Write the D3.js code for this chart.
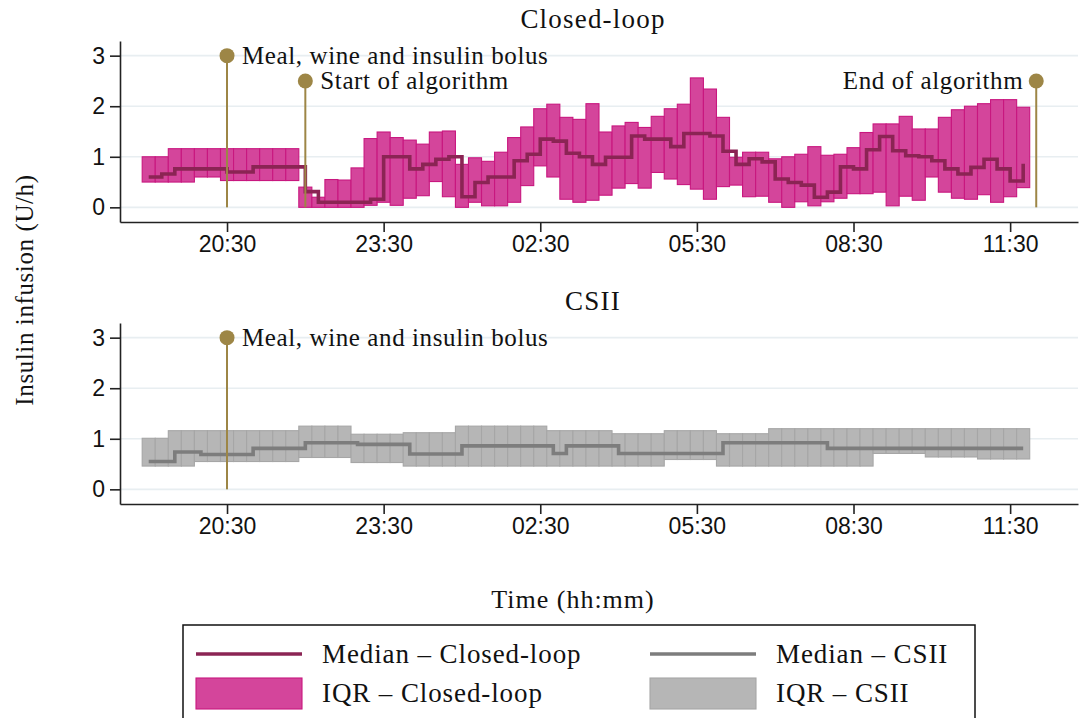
<!DOCTYPE html>
<html>
<head>
<meta charset="utf-8">
<script src="https://cdn.jsdelivr.net/npm/d3@7"></script>
<style>
  body { margin: 0; background: #fff; }
  svg { display: block; }
</style>
</head>
<body>
<svg id="chart" width="1080" height="718"></svg>
<script>
// 15-minute slots (slot centres) from the evening to late morning
const slotTimes = [
  "19:00","19:15","19:30","19:45","20:00","20:15","20:30","20:45",
  "21:00","21:15","21:30","21:45","22:00","22:15","22:30","22:45",
  "23:00","23:15","23:30","23:45","00:00","00:15","00:30","00:45",
  "01:00","01:15","01:30","01:45","02:00","02:15","02:30","02:45",
  "03:00","03:15","03:30","03:45","04:00","04:15","04:30","04:45",
  "05:00","05:15","05:30","05:45","06:00","06:15","06:30","06:45",
  "07:00","07:15","07:30","07:45","08:00","08:15","08:30","08:45",
  "09:00","09:15","09:30","09:45","10:00","10:15","10:30","10:45",
  "11:00","11:15","11:30","11:45"
];

// Closed-loop insulin infusion (U/h): lower quartile, upper quartile, median
const clLow = [
  0.50,0.50,0.50,0.50,0.60,0.60,0.53,0.53,0.53,0.53,0.53,0.53,
  0.00,0.00,0.00,0.00,0.00,0.04,0.10,0.04,0.18,0.23,0.51,0.21,
  0.00,0.10,0.03,0.03,0.10,0.43,0.82,0.60,0.16,0.10,0.14,0.24,
  0.38,0.47,0.38,0.69,0.56,0.45,0.36,0.16,0.41,0.44,0.21,0.22,
  0.10,0.00,0.11,0.03,0.11,0.18,0.27,0.27,0.30,0.03,0.22,0.14,
  0.60,0.30,0.18,0.16,0.25,0.10,0.21,0.39
];
const clHigh = [
  1.00,1.00,1.16,1.16,1.16,1.16,1.16,1.16,1.16,1.16,1.16,1.16,
  0.40,0.20,0.55,0.54,0.78,1.36,1.49,1.38,1.33,1.25,1.49,1.51,
  0.85,0.98,0.91,1.09,1.38,1.59,1.95,2.04,1.78,1.74,2.05,1.49,
  1.61,1.68,1.58,1.80,1.95,2.04,2.56,2.34,1.78,0.99,1.09,1.09,
  0.96,1.00,1.05,1.20,1.03,1.05,1.18,1.48,1.65,1.65,1.80,1.55,
  1.55,1.78,1.93,2.00,2.05,2.13,2.13,1.98
];
const clMedian = [
  0.60,0.66,0.76,0.76,0.76,0.76,0.70,0.70,0.80,0.80,0.80,0.80,
  0.31,0.10,0.10,0.10,0.10,0.16,1.00,1.00,0.76,0.85,0.95,1.00,
  0.21,0.49,0.60,0.60,0.92,1.05,1.35,1.31,1.07,1.00,0.85,0.99,
  0.99,1.41,1.35,1.35,1.20,1.46,1.46,1.41,1.11,0.85,0.96,0.90,
  0.56,0.49,0.44,0.20,0.30,0.80,0.76,1.14,1.40,1.12,1.02,1.00,
  0.92,0.76,0.66,0.79,0.95,0.76,0.52,0.86
];

// CSII insulin infusion (U/h): lower quartile, upper quartile, median
const csLow = [
  0.46,0.46,0.46,0.46,0.55,0.55,0.55,0.55,0.55,0.55,0.55,0.55,
  0.63,0.63,0.63,0.63,0.53,0.53,0.53,0.53,0.46,0.46,0.46,0.46,
  0.46,0.46,0.46,0.46,0.46,0.46,0.46,0.46,0.46,0.46,0.46,0.46,
  0.46,0.46,0.46,0.46,0.59,0.59,0.59,0.59,0.46,0.46,0.46,0.46,
  0.46,0.46,0.46,0.46,0.46,0.46,0.46,0.46,0.71,0.71,0.71,0.71,
  0.64,0.64,0.64,0.64,0.60,0.60,0.60,0.60
];
const csHigh = [
  1.01,1.01,1.16,1.16,1.16,1.16,1.16,1.16,1.16,1.16,1.16,1.16,
  1.25,1.25,1.25,1.25,1.09,1.09,1.09,1.09,1.12,1.12,1.12,1.12,
  1.25,1.25,1.25,1.25,1.25,1.25,1.25,1.16,1.16,1.16,1.16,1.16,
  1.10,1.10,1.10,1.10,1.16,1.16,1.16,1.16,1.10,1.10,1.10,1.10,
  1.20,1.20,1.20,1.20,1.20,1.20,1.20,1.20,1.20,1.20,1.20,1.20,
  1.20,1.20,1.20,1.20,1.20,1.20,1.20,1.20
];
const csMedian = [
  0.55,0.55,0.74,0.74,0.69,0.69,0.69,0.69,0.81,0.81,0.81,0.81,
  0.92,0.92,0.92,0.92,0.89,0.89,0.89,0.89,0.70,0.70,0.70,0.70,
  0.86,0.86,0.86,0.86,0.86,0.86,0.86,0.71,0.86,0.86,0.86,0.86,
  0.71,0.71,0.71,0.71,0.71,0.71,0.71,0.71,0.92,0.92,0.92,0.92,
  0.92,0.92,0.92,0.92,0.81,0.81,0.81,0.81,0.81,0.81,0.81,0.81,
  0.81,0.81,0.81,0.81,0.81,0.81,0.81,0.81
];

// Axis ticks
const xTickLabels = ["20:30","23:30","02:30","05:30","08:30","11:30"];
const yTickValues = [0, 1, 2, 3];

// Event markers
const clEventTimes  = ["20:30", "22:00", "12:00"];
const clEventValues = [3, 2.5, 2.5];
const clEventLabels = ["Meal, wine and insulin bolus", "Start of algorithm", "End of algorithm"];
const csEventTimes  = ["20:30"];
const csEventValues = [3];
const csEventLabels = ["Meal, wine and insulin bolus"];

// ---------------------------------------------------------------
const SERIF = "'Liberation Serif', 'Times New Roman', serif";
const SANS = "'Liberation Sans', Arial, Helvetica, sans-serif";
const EVENT_COLOR = "#9d8646";

// hours after 18:00, wrapping past midnight
const toHours = s => {
  const [h, m] = s.split(":").map(Number);
  let t = h + m / 60 - 18;
  if (t < 0) t += 24;
  return t;
};
const slotHours = slotTimes.map(toHours);
const halfSlot = 0.125;

const svg = d3.select("#chart");
svg.append("rect").attr("width", 1080).attr("height", 718).attr("fill", "#fff");

const x = d3.scaleLinear().domain([0.45, 18.8]).range([120, 1078]);

function drawPanel(cfg) {
  const y = d3.scaleLinear().domain([-0.29, 3.29]).range([cfg.bottom, cfg.top]);
  const g = svg.append("g");

  // horizontal grid
  g.append("g").selectAll("line").data(yTickValues).join("line")
    .attr("x1", x.range()[0]).attr("x2", x.range()[1])
    .attr("y1", d => y(d)).attr("y2", d => y(d))
    .attr("stroke", "#e8eef1").attr("stroke-width", 1.6);

  // IQR bars
  const rows = slotHours.map((t, i) => ({ t, lo: cfg.low[i], hi: cfg.high[i], med: cfg.median[i] }));
  g.append("g").selectAll("rect").data(rows).join("rect")
    .attr("x", d => x(d.t - halfSlot))
    .attr("width", d => x(d.t + halfSlot) - x(d.t - halfSlot))
    .attr("y", d => y(d.hi))
    .attr("height", d => y(d.lo) - y(d.hi))
    .attr("fill", cfg.fill)
    .attr("stroke", cfg.stroke)
    .attr("stroke-width", 1.1);

  // median step line
  const line = d3.line().x(d => x(d.t)).y(d => y(d.med)).curve(d3.curveStepAfter);
  g.append("path").datum(rows)
    .attr("d", line)
    .attr("fill", "none")
    .attr("stroke", cfg.medColor)
    .attr("stroke-width", 3.6)
    .attr("stroke-linejoin", "miter");

  // event markers
  cfg.evTimes.forEach((tm, i) => {
    const ex = x(toHours(tm));
    const ey = y(cfg.evValues[i]);
    g.append("line")
      .attr("x1", ex).attr("x2", ex)
      .attr("y1", ey).attr("y2", y(0))
      .attr("stroke", EVENT_COLOR).attr("stroke-width", 2);
    g.append("circle").attr("cx", ex).attr("cy", ey).attr("r", 7.5).attr("fill", EVENT_COLOR);
    const leftSide = ex > 900;
    g.append("text")
      .attr("x", leftSide ? ex - 13 : ex + 15)
      .attr("y", ey + 8)
      .attr("text-anchor", leftSide ? "end" : "start")
      .attr("font-family", SERIF)
      .attr("font-size", 25)
      .attr("letter-spacing", "0.6px")
      .attr("fill", "#111")
      .text(cfg.evLabels[i]);
  });

  // axes
  const yAxis = d3.axisLeft(y).tickValues(yTickValues).tickFormat(d3.format("d"))
    .tickSize(10).tickSizeOuter(0).tickPadding(5);
  const ya = g.append("g").attr("transform", `translate(${x.range()[0]},0)`).call(yAxis);

  const xAxis = d3.axisBottom(x).tickValues(xTickLabels.map(toHours))
    .tickFormat((d, i) => xTickLabels[i]).tickSize(10).tickSizeOuter(0).tickPadding(4);
  const xa = g.append("g").attr("transform", `translate(0,${cfg.bottom})`).call(xAxis);

  [ya, xa].forEach(a => {
    a.select(".domain").attr("stroke", "#222").attr("stroke-width", 1.6);
    a.selectAll(".tick line").attr("stroke", "#222").attr("stroke-width", 1.6);
    a.selectAll(".tick text").attr("font-family", SANS).attr("font-size", 23).attr("fill", "#111");
  });

  // panel title
  svg.append("text")
    .attr("x", 593).attr("y", cfg.top - 13)
    .attr("text-anchor", "middle")
    .attr("font-family", SERIF).attr("font-size", 27).attr("letter-spacing", "1.2px")
    .attr("fill", "#111")
    .text(cfg.title);
}

drawPanel({
  title: "Closed-loop", top: 41, bottom: 222,
  low: clLow, high: clHigh, median: clMedian,
  fill: "#d4459b", stroke: "#c8177f", medColor: "#8b2454",
  evTimes: clEventTimes, evValues: clEventValues, evLabels: clEventLabels
});
drawPanel({
  title: "CSII", top: 323, bottom: 504,
  low: csLow, high: csHigh, median: csMedian,
  fill: "#b6b6b6", stroke: "#a6a6a6", medColor: "#7d7d7d",
  evTimes: csEventTimes, evValues: csEventValues, evLabels: csEventLabels
});

// shared axis titles
svg.append("text")
  .attr("transform", "translate(33,290) rotate(-90)")
  .attr("text-anchor", "middle")
  .attr("font-family", SERIF).attr("font-size", 25).attr("letter-spacing", "0.6px")
  .attr("fill", "#111")
  .text("Insulin infusion (U/h)");

svg.append("text")
  .attr("x", 573).attr("y", 608)
  .attr("text-anchor", "middle")
  .attr("font-family", SERIF).attr("font-size", 26).attr("letter-spacing", "1px")
  .attr("fill", "#111")
  .text("Time (hh:mm)");

// legend
const legendNames = ["Median – Closed-loop", "IQR – Closed-loop", "Median – CSII", "IQR – CSII"];
const lg = svg.append("g");
lg.append("rect").attr("x", 183).attr("y", 625).attr("width", 792).attr("height", 110)
  .attr("fill", "#fff").attr("stroke", "#111").attr("stroke-width", 1.5);

const legendItems = [
  { col: 0, row: 0, kind: "line", color: "#8b2454" },
  { col: 0, row: 1, kind: "box", fill: "#d4459b", stroke: "#c8177f" },
  { col: 1, row: 0, kind: "line", color: "#7d7d7d" },
  { col: 1, row: 1, kind: "box", fill: "#b6b6b6", stroke: "#a6a6a6" }
];
legendItems.forEach((it, i) => {
  const x0 = it.col === 0 ? 196 : 650;
  const cy = it.row === 0 ? 654 : 693;
  if (it.kind === "line") {
    lg.append("line").attr("x1", x0).attr("x2", x0 + 106).attr("y1", cy).attr("y2", cy)
      .attr("stroke", it.color).attr("stroke-width", 3.6);
  } else {
    lg.append("rect").attr("x", x0).attr("y", cy - 15).attr("width", 106).attr("height", 31)
      .attr("fill", it.fill).attr("stroke", it.stroke).attr("stroke-width", 1.1);
  }
  lg.append("text")
    .attr("x", x0 + 126).attr("y", cy + 9)
    .attr("font-family", SERIF).attr("font-size", 27).attr("letter-spacing", "0.9px")
    .attr("fill", "#111")
    .text(legendNames[i]);
});
</script>
</body>
</html>
